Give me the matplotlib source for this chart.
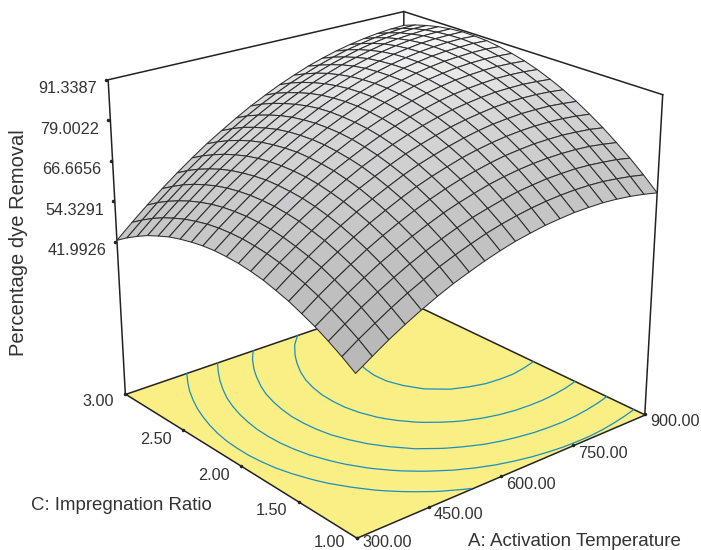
import numpy as np
import matplotlib
matplotlib.use("Agg")
import matplotlib.pyplot as plt
from matplotlib.lines import Line2D
from mpl_toolkits.mplot3d import proj3d
from mpl_toolkits.mplot3d.art3d import Poly3DCollection

plt.rcParams["font.family"] = ["Liberation Sans", "DejaVu Sans"]

a_ticks = [300.0, 450.0, 600.0, 750.0, 900.0]
c_ticks = [1.0, 1.5, 2.0, 2.5, 3.0]
z_ticks = [41.9926, 54.3291, 66.6656, 79.0022, 91.3387]
levels = [59.5, 66.2, 72.9, 79.6, 86.2]

a_grid = [300, 330, 360, 390, 420, 450, 480, 510, 540, 570, 600, 630, 660, 690, 720, 750, 780, 810, 840, 870, 900]
c_grid = [1.0, 1.1, 1.2, 1.3, 1.4, 1.5, 1.6, 1.7, 1.8, 1.9, 2.0, 2.1, 2.2, 2.3, 2.4, 2.5, 2.6, 2.7, 2.8, 2.9, 3.0]

# percentage dye removal, one row per impregnation ratio
removal = [
    [42.0,45.0,47.9,50.5,52.9,55.1,57.1,58.8,60.4,61.8,63.0,63.9,64.7,65.2,65.6,65.7,65.7,65.4,64.9,64.2,63.3],
    [44.6,47.7,50.5,53.2,55.7,57.9,60.0,61.8,63.4,64.9,66.1,67.1,67.9,68.5,68.9,69.1,69.1,68.9,68.4,67.8,67.0],
    [46.9,50.0,53.0,55.7,58.2,60.5,62.6,64.5,66.2,67.7,68.9,70.0,70.9,71.5,72.0,72.2,72.3,72.1,71.7,71.2,70.4],
    [49.0,52.1,55.1,57.9,60.5,62.8,65.0,66.9,68.7,70.2,71.5,72.7,73.6,74.3,74.8,75.1,75.2,75.1,74.8,74.2,73.5],
    [50.7,54.0,57.0,59.8,62.5,64.9,67.1,69.1,70.9,72.5,73.9,75.0,76.0,76.8,77.3,77.7,77.8,77.8,77.5,77.1,76.4],
    [52.3,55.6,58.7,61.5,64.2,66.7,68.9,71.0,72.9,74.5,75.9,77.2,78.2,79.0,79.6,80.0,80.2,80.2,80.0,79.6,79.0],
    [53.5,56.9,60.0,63.0,65.7,68.2,70.5,72.6,74.6,76.3,77.7,79.0,80.1,81.0,81.7,82.1,82.4,82.4,82.3,81.9,81.4],
    [54.6,58.0,61.1,64.1,66.9,69.5,71.9,74.0,76.0,77.8,79.3,80.6,81.8,82.7,83.4,84.0,84.3,84.4,84.3,84.0,83.5],
    [55.3,58.8,62.0,65.1,67.9,70.5,72.9,75.2,77.2,79.0,80.6,82.0,83.2,84.2,84.9,85.5,85.9,86.0,86.0,85.7,85.3],
    [55.8,59.3,62.6,65.7,68.6,71.3,73.8,76.0,78.1,80.0,81.6,83.1,84.3,85.4,86.2,86.8,87.2,87.5,87.5,87.3,86.9],
    [56.0,59.6,62.9,66.1,69.0,71.8,74.3,76.6,78.8,80.7,82.4,83.9,85.2,86.3,87.2,87.9,88.3,88.6,88.7,88.5,88.2],
    [56.0,59.6,63.0,66.2,69.2,72.0,74.6,77.0,79.2,81.1,82.9,84.5,85.8,87.0,87.9,88.6,89.2,89.5,89.6,89.5,89.2],
    [55.7,59.4,62.8,66.1,69.2,72.0,74.7,77.1,79.3,81.3,83.2,84.8,86.2,87.4,88.4,89.2,89.8,90.1,90.3,90.3,90.0],
    [55.1,58.9,62.4,65.7,68.8,71.7,74.4,76.9,79.2,81.3,83.2,84.8,86.3,87.5,88.6,89.4,90.1,90.5,90.7,90.8,90.6],
    [54.3,58.1,61.7,65.1,68.2,71.2,73.9,76.5,78.8,81.0,82.9,84.6,86.1,87.4,88.5,89.4,90.1,90.6,90.9,91.0,90.8],
    [53.3,57.1,60.7,64.2,67.4,70.4,73.2,75.8,78.2,80.4,82.4,84.1,85.7,87.1,88.2,89.2,89.9,90.5,90.8,90.9,90.9],
    [51.9,55.8,59.5,63.0,66.3,69.3,72.2,74.8,77.3,79.5,81.6,83.4,85.0,86.5,87.7,88.7,89.5,90.1,90.5,90.6,90.6],
    [50.4,54.3,58.0,61.6,64.9,68.0,70.9,73.6,76.1,78.4,80.5,82.4,84.1,85.6,86.8,87.9,88.8,89.4,89.8,90.1,90.1],
    [48.5,52.5,56.3,59.9,63.3,66.4,69.4,72.2,74.7,77.1,79.2,81.2,82.9,84.4,85.7,86.9,87.8,88.5,89.0,89.3,89.3],
    [46.4,50.4,54.3,57.9,61.4,64.6,67.6,70.4,73.1,75.5,77.7,79.7,81.4,83.0,84.4,85.6,86.5,87.3,87.8,88.2,88.3],
    [44.0,48.1,52.0,55.7,59.2,62.5,65.6,68.4,71.1,73.6,75.8,77.9,79.7,81.4,82.8,84.0,85.0,85.8,86.4,86.8,87.0],
]

a_grid = np.array(a_grid, float)
c_grid = np.array(c_grid)
A, C = np.meshgrid(a_grid, c_grid)
Z = np.array(removal)

floor_z = -4.3
top_z = z_ticks[-1]
W, H = 701, 550
scale, tx, ty = 3348.94, 382.34, 299.22

fig = plt.figure(figsize=(W/100, H/100), dpi=100)
ax = fig.add_axes([0, 0, 1, 1], projection="3d", computed_zorder=False)
ax.set_axis_off()
ax.set_xlim(300, 900); ax.set_ylim(1, 3); ax.set_zlim(floor_z, top_z)
ax.view_init(elev=22.5, azim=-130)
ax.set_proj_type("persp", focal_length=0.6)
ax.set_box_aspect((1, 1, 0.9))

# place the axes so that the projected box lands on the right pixels
vl = ax.viewLim
w_px = scale * (vl.x1 - vl.x0)
h_px = scale * (vl.y1 - vl.y0)
ax.set_position([(tx + scale*vl.x0)/W, (ty + scale*vl.y0)/H, w_px/W, h_px/H])

line = dict(color="#222222", lw=1.1)
ax.plot([300, 300], [3, 3], [floor_z, top_z], zorder=1, **line)
ax.plot([900, 900], [1, 1], [floor_z, top_z], zorder=1, **line)
ax.plot([900, 900], [3, 3], [floor_z, top_z], zorder=1, **line)
ax.plot([300, 900, 900], [3, 3, 1], [top_z]*3, zorder=1, **line)

floor = Poly3DCollection([[(300, 1, floor_z), (900, 1, floor_z), (900, 3, floor_z), (300, 3, floor_z)]],
                         facecolor="#f9ef85", edgecolor="#222222", linewidth=1.1, zorder=2)
ax.add_collection3d(floor)
ax.contour(A, C, Z, levels=levels, zdir="z", offset=floor_z, colors="#1a8fc0", linewidths=0.9, zorder=3)

# facet shade from the slope in box units
dz_dc, dz_da = np.gradient(Z, c_grid, a_grid)
gx = dz_da * 600 * 0.9 / (top_z - floor_z)
gy = dz_dc * 2 * 0.9 / (top_z - floor_z)
n = np.sqrt(gx**2 + gy**2 + 1)
light = np.array([0.15, 0.2, 0.97])
dot = (-gx*light[0] - gy*light[1] + light[2]) / n
gray = np.interp(dot, [0.62, 0.84, 0.97], [0.72, 0.85, 0.97])
face = np.dstack([gray, gray, gray*1.005, np.ones_like(gray)]).clip(0, 1)[:-1, :-1]
ax.plot_surface(A, C, Z, facecolors=face, rstride=1, cstride=1, shade=False,
                edgecolor="#2e2e2e", linewidth=0.75, antialiased=True, zorder=4)

M = ax.get_proj()
def to_2d(x, y, z):
    px, py, _ = proj3d.proj_transform(x, y, z, M)
    return np.array([px, py])

def label(p, text, dx, dy, ha):
    ax.annotate(text, p, xytext=(dx, dy), textcoords="offset pixels",
                ha=ha, va="center", fontsize=11.7, color="#333333")

def tick_dot(p, dx=0):
    ax.add_artist(Line2D([p[0] + dx/scale], [p[1]], marker="o", ms=1.5, color="#222222",
                         ls="none", zorder=5, transform=ax.transData))

# the reference spaces its ticks evenly on screen between the box corners
z0 = to_2d(300, 3, floor_z); z1 = to_2d(300, 3, top_z)
for val in z_ticks:
    p = z0 + (z1 - z0) * (val - floor_z) / (top_z - floor_z)
    tick_dot(p, -2)
    label(p, f"{val:.4f}", -11, -9, "right")

c0 = to_2d(300, 1, floor_z); c1 = to_2d(300, 3, floor_z)
c_dy = [-5, -9, -10, -10, -8]
for i, val in enumerate(c_ticks):
    p = c0 + (c1 - c0) * i / 4
    tick_dot(p)
    label(p, f"{val:.2f}", -11, c_dy[i], "right")

a0 = to_2d(300, 1, floor_z); a1 = to_2d(900, 1, floor_z)
a_dy = [-5, -8, -8, -8, -7]
for i, val in enumerate(a_ticks):
    p = a0 + (a1 - a0) * i / 4
    tick_dot(p)
    label(p, f"{val:.2f}", 5.5, a_dy[i], "left")

fig.text(19/W, 1 - 243/H, "Percentage dye Removal", rotation=90, fontsize=14.5, color="#333333",
         ha="center", va="center")
fig.text(31/W, 1 - 506/H, "C: Impregnation Ratio", fontsize=13.4, color="#333333", ha="left", va="center")
fig.text(468/W, 1 - 541/H, "A: Activation Temperature", fontsize=13.5, color="#333333", ha="left", va="center")

fig.savefig("out.png", dpi=100)
